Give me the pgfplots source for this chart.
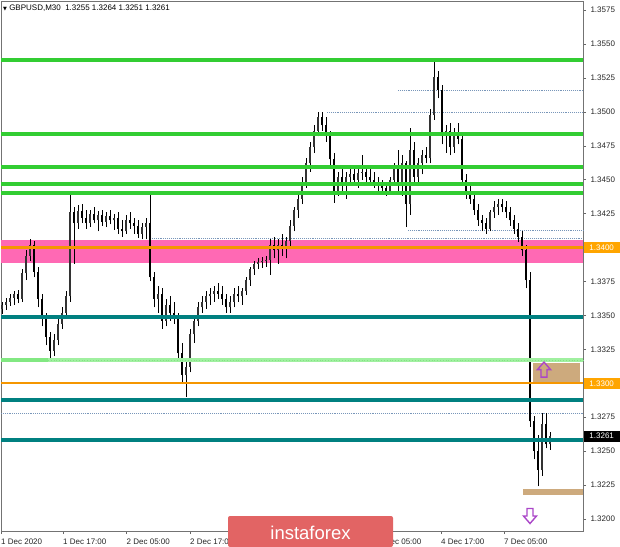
\documentclass[border=0pt]{standalone}
\usepackage{pgfplots}
\pgfplotsset{compat=1.18}
\usepackage{pgfplotstable}
\usepackage{fontspec}
\setmainfont{Liberation Sans}
\newfontfamily\dejavu{DejaVu Sans}

\definecolor{lgreen}{RGB}{50,205,50}
\definecolor{tealz}{RGB}{0,128,128}
\definecolor{pinkz}{RGB}{255,105,180}
\definecolor{lvlorange}{RGB}{245,150,0}
\definecolor{lblorange}{RGB}{255,165,0}
\definecolor{tanz}{RGB}{205,170,125}
\definecolor{dotc}{RGB}{120,150,185}
\definecolor{paleg}{RGB}{160,240,160}
\definecolor{brightg}{RGB}{130,232,130}
\definecolor{arrowc}{RGB}{170,70,200}
\definecolor{bannerc}{RGB}{226,100,100}

\pgfplotstableread{
x o h l c
2 1.3355 1.3360 1.3351 1.3358
6 1.3358 1.3363 1.3354 1.3360
10 1.3360 1.3366 1.3357 1.3363
14 1.3363 1.3368 1.3358 1.3366
18 1.3366 1.3369 1.3359 1.3362
22 1.3362 1.3384 1.3360 1.3381
26 1.3381 1.3398 1.3376 1.3394
30 1.3394 1.3406 1.3390 1.3402
34 1.3402 1.3405 1.3378 1.3382
38 1.3382 1.3386 1.3356 1.3362
42 1.3362 1.3366 1.3342 1.3348
46 1.3348 1.3352 1.3328 1.3334
50 1.3334 1.3338 1.3317 1.3324
54 1.3324 1.3336 1.3320 1.3332
58 1.3332 1.3348 1.3328 1.3344
62 1.3344 1.3356 1.3340 1.3352
66 1.3352 1.3368 1.3348 1.3364
70 1.3364 1.3440 1.3360 1.3426
74 1.3426 1.3430 1.3388 1.3418
78 1.3418 1.3431 1.3414 1.3427
82 1.3427 1.3432 1.3418 1.3422
86 1.3422 1.3428 1.3414 1.3418
90 1.3418 1.3428 1.3415 1.3425
94 1.3425 1.3430 1.3418 1.3420
98 1.3420 1.3427 1.3412 1.3424
102 1.3424 1.3428 1.3416 1.3419
106 1.3419 1.3426 1.3415 1.3423
110 1.3423 1.3428 1.3417 1.3420
114 1.3420 1.3425 1.3413 1.3422
118 1.3422 1.3426 1.3410 1.3414
122 1.3414 1.3420 1.3408 1.3412
126 1.3412 1.3424 1.3410 1.3420
130 1.3420 1.3426 1.3414 1.3418
134 1.3418 1.3422 1.3410 1.3416
138 1.3416 1.3420 1.3407 1.3410
142 1.3410 1.3418 1.3406 1.3415
146 1.3415 1.3422 1.3406 1.3418
150 1.3418 1.3440 1.3375 1.3378
154 1.3378 1.3382 1.3356 1.3362
158 1.3362 1.3372 1.3352 1.3366
162 1.3366 1.3370 1.3340 1.3346
166 1.3346 1.3362 1.3342 1.3358
170 1.3358 1.3364 1.3346 1.3352
174 1.3352 1.3360 1.3344 1.3348
178 1.3348 1.3352 1.3318 1.3322
182 1.3322 1.3330 1.3300 1.3306
186 1.3306 1.3316 1.3290 1.3312
190 1.3312 1.3340 1.3308 1.3336
194 1.3336 1.3350 1.3330 1.3346
198 1.3346 1.3360 1.3342 1.3356
202 1.3356 1.3364 1.3352 1.3360
206 1.3360 1.3368 1.3355 1.3364
210 1.3364 1.3370 1.3358 1.3366
214 1.3366 1.3372 1.3360 1.3368
218 1.3368 1.3374 1.3362 1.3366
222 1.3366 1.3372 1.3358 1.3362
226 1.3362 1.3366 1.3352 1.3356
230 1.3356 1.3364 1.3352 1.3360
234 1.3360 1.3370 1.3356 1.3366
238 1.3366 1.3372 1.3360 1.3364
242 1.3364 1.3370 1.3358 1.3368
246 1.3368 1.3378 1.3365 1.3376
250 1.3376 1.3386 1.3372 1.3384
254 1.3384 1.3390 1.3380 1.3388
258 1.3388 1.3392 1.3384 1.3389
262 1.3389 1.3393 1.3385 1.3390
266 1.3390 1.3394 1.3386 1.3391
270 1.3391 1.3406 1.3380 1.3402
274 1.3402 1.3408 1.3392 1.3398
278 1.3398 1.3406 1.3388 1.3402
282 1.3402 1.3410 1.3394 1.3400
286 1.3400 1.3408 1.3392 1.3405
290 1.3405 1.3420 1.3400 1.3416
294 1.3416 1.3430 1.3412 1.3428
298 1.3428 1.3440 1.3422 1.3436
302 1.3436 1.3452 1.3432 1.3448
306 1.3448 1.3466 1.3444 1.3462
310 1.3462 1.3478 1.3456 1.3474
314 1.3474 1.3490 1.3470 1.3486
318 1.3486 1.3500 1.3482 1.3496
322 1.3496 1.3500 1.3486 1.3490
326 1.3490 1.3496 1.3478 1.3482
330 1.3482 1.3486 1.3460 1.3465
334 1.3465 1.3470 1.3433 1.3440
338 1.3440 1.3456 1.3438 1.3452
342 1.3452 1.3458 1.3442 1.3448
346 1.3448 1.3456 1.3436 1.3452
350 1.3452 1.3458 1.3446 1.3454
354 1.3454 1.3460 1.3446 1.3450
358 1.3450 1.3458 1.3444 1.3455
362 1.3455 1.3468 1.3450 1.3456
366 1.3456 1.3460 1.3448 1.3452
370 1.3452 1.3458 1.3446 1.3450
374 1.3450 1.3456 1.3444 1.3448
378 1.3448 1.3452 1.3442 1.3446
382 1.3446 1.3450 1.3440 1.3444
386 1.3444 1.3448 1.3438 1.3442
390 1.3442 1.3452 1.3440 1.3450
394 1.3450 1.3462 1.3446 1.3458
398 1.3458 1.3472 1.3440 1.3446
402 1.3446 1.3468 1.3438 1.3462
406 1.3462 1.3464 1.3415 1.3432
410 1.3432 1.3488 1.3424 1.3472
414 1.3472 1.3478 1.3446 1.3452
418 1.3452 1.3466 1.3448 1.3462
422 1.3462 1.3472 1.3454 1.3468
426 1.3468 1.3474 1.3462 1.3466
430 1.3466 1.3502 1.3462 1.3498
434 1.3498 1.3538 1.3494 1.3526
438 1.3526 1.3530 1.3510 1.3516
442 1.3516 1.3520 1.3476 1.3482
446 1.3482 1.3490 1.3470 1.3486
450 1.3486 1.3492 1.3468 1.3474
454 1.3474 1.3488 1.3470 1.3484
458 1.3484 1.3492 1.3476 1.3480
462 1.3480 1.3484 1.3446 1.3450
466 1.3450 1.3454 1.3436 1.3440
470 1.3440 1.3446 1.3432 1.3436
474 1.3436 1.3440 1.3424 1.3428
478 1.3428 1.3432 1.3416 1.3420
482 1.3420 1.3424 1.3412 1.3418
486 1.3418 1.3422 1.3410 1.3414
490 1.3414 1.3428 1.3412 1.3426
494 1.3426 1.3434 1.3422 1.3430
498 1.3430 1.3436 1.3424 1.3432
502 1.3432 1.3436 1.3426 1.3430
506 1.3430 1.3434 1.3422 1.3426
510 1.3426 1.3430 1.3416 1.3420
514 1.3420 1.3424 1.3410 1.3414
518 1.3414 1.3418 1.3404 1.3408
522 1.3408 1.3412 1.3394 1.3398
526 1.3398 1.3402 1.3370 1.3376
530 1.3376 1.3382 1.3268 1.3272
534 1.3272 1.3276 1.3244 1.3250
538 1.3250 1.3262 1.3224 1.3236
542 1.3236 1.3278 1.3232 1.3270
546 1.3270 1.3278 1.3252 1.3255
550 1.3255 1.3264 1.3251 1.3261
}\candles

\begin{document}
\begin{tikzpicture}
\begin{axis}[
  at={(0,0)}, anchor=south west,
  scale only axis, width=582pt, height=530pt,
  xmin=1, xmax=583, ymin=1.319115, ymax=1.358168,
  clip=false,
  axis line style={black!55, line width=0.6pt},
  xtick pos=lower, ytick pos=upper, yticklabel pos=right,
  tick align=outside, major tick length=3pt,
  tick style={black!60, line width=0.5pt},
  ticklabel style={font=\fontsize{8}{9}\selectfont, text=black!85},
  ytick={1.3200,1.3225,1.3250,1.3275,1.3300,1.3325,1.3350,1.3375,1.3400,1.3425,1.3450,1.3475,1.3500,1.3525,1.3550,1.3575},
  yticklabels={1.3200,1.3225,1.3250,1.3275,1.3300,1.3325,1.3350,1.3375,1.3400,1.3425,1.3450,1.3475,1.3500,1.3525,1.3550,1.3575},
  xtick={1,63,126.5,190,252,315,378,441,504},
  xticklabels={1 Dec 2020,1 Dec 17:00,2 Dec 05:00,2 Dec 17:00,,,4 Dec 05:00,4 Dec 17:00,7 Dec 05:00},
  xticklabel style={anchor=north west, inner xsep=0pt, yshift=-1pt},
  yticklabel style={xshift=1pt},
]
% background zones
\fill[pinkz] (axis cs:1,1.33886) rectangle (axis cs:583,1.34056);
\fill[tanz] (axis cs:533,1.33000) rectangle (axis cs:580,1.33149);
\fill[tanz] (axis cs:523,1.32178) rectangle (axis cs:583,1.32220);

% dotted levels
\addplot[draw=dotc, line width=0.9pt, densely dotted] coordinates {(398,1.35154) (583,1.35154)};
\addplot[draw=dotc, line width=0.9pt, densely dotted] coordinates {(327,1.34992) (583,1.34992)};
\addplot[draw=dotc, line width=0.9pt, densely dotted] coordinates {(408,1.34129) (583,1.34129)};
\addplot[draw=dotc, line width=0.9pt, densely dotted] coordinates {(150,1.34070) (583,1.34070)};
\addplot[draw=dotc, line width=0.9pt, densely dotted] coordinates {(1,1.32774) (583,1.32774)};

% candles
\addplot[draw=black, line width=0.75pt, quiver={u=0, v=\thisrow{h}-\thisrow{l}}] table[x=x, y=l] {\candles};
\addplot[draw=black, line width=2.3pt, quiver={u=0, v={max(\thisrow{o}-\thisrow{c},0)}}] table[x=x, y=c] {\candles};
\addplot[draw=black!80, line width=2.3pt, quiver={u=0, v={max(\thisrow{c}-\thisrow{o},0)}}] table[x=x, y=o] {\candles};

% horizontal levels
\addplot[draw=lgreen, line width=3.4pt] coordinates {(1,1.35382) (583,1.35382)};
\addplot[draw=lgreen, line width=3.4pt] coordinates {(1,1.34837) (583,1.34837)};
\addplot[draw=lgreen, line width=3.4pt] coordinates {(1,1.34594) (583,1.34594)};
\addplot[draw=lgreen, line width=3.4pt] coordinates {(1,1.34468) (583,1.34468)};
\addplot[draw=lgreen, line width=3.8pt] coordinates {(1,1.34402) (583,1.34402)};
\addplot[draw=tealz, line width=3.2pt] coordinates {(1,1.33488) (583,1.33488)};
\addplot[draw=paleg, line width=3.4pt] coordinates {(1,1.33171) (583,1.33171)};
\addplot[draw=brightg, line width=3.4pt] coordinates {(1,1.33171) (48,1.33171)};
\addplot[draw=lgreen!60, line width=0.8pt, dotted] coordinates {(48,1.33171) (583,1.33171)};
\addplot[draw=tealz, line width=3.2pt] coordinates {(1,1.32877) (583,1.32877)};
\addplot[draw=tealz, line width=3.2pt] coordinates {(1,1.32582) (583,1.32582)};
\addplot[draw=lvlorange, solid, line width=2.2pt] coordinates {(1,1.3400) (583,1.3400)};
\addplot[draw=lvlorange, solid, line width=1.8pt] coordinates {(1,1.3300) (583,1.3300)};

% arrows
\begin{scope}[shift={(axis cs:544,1.33101)}]
\draw[arrowc, line width=1.4pt, line join=miter] (-3pt,-7.5pt) -- (3pt,-7.5pt) -- (3pt,0pt) -- (6.5pt,0pt) -- (0pt,7.5pt) -- (-6.5pt,0pt) -- (-3pt,0pt) -- cycle;
\end{scope}
\begin{scope}[shift={(axis cs:530,1.32022)}]
\draw[arrowc, line width=1.4pt, line join=miter] (-3pt,7.5pt) -- (3pt,7.5pt) -- (3pt,0pt) -- (6.5pt,0pt) -- (0pt,-7.5pt) -- (-6.5pt,0pt) -- (-3pt,0pt) -- cycle;
\end{scope}

% price labels on axis
\node[fill=lblorange, text=white, anchor=west, inner sep=0pt, minimum width=36pt, minimum height=11pt, font=\fontsize{8}{9}\selectfont] at (axis cs:583.5,1.3400) {1.3400};
\node[fill=lblorange, text=white, anchor=west, inner sep=0pt, minimum width=36pt, minimum height=11pt, font=\fontsize{8}{9}\selectfont] at (axis cs:583.5,1.3300) {1.3300};
\node[fill=black, text=white, anchor=west, inner sep=0pt, minimum width=36pt, minimum height=11pt, font=\fontsize{8}{9}\selectfont] at (axis cs:583.5,1.3261) {1.3261};

% title
\node[anchor=west, inner sep=0pt, font=\fontsize{8}{9}\selectfont] at (axis cs:3,1.35765) {{\dejavu\fontsize{5}{5}\selectfont ▼}\ GBPUSD,M30\ \ 1.3255 1.3264 1.3251 1.3261};
\end{axis}
% banner
\fill[bannerc, rounded corners=2pt] (227pt,-16pt) rectangle (392pt,15pt);
\node[text=white, font=\fontsize{18.5}{20}\selectfont, inner sep=0pt] at (309.5pt,-1.5pt) {instaforex};
\pgfresetboundingbox
\path[use as bounding box] (-1pt,-15pt) rectangle (619pt,531pt);
\end{tikzpicture}
\end{document}
